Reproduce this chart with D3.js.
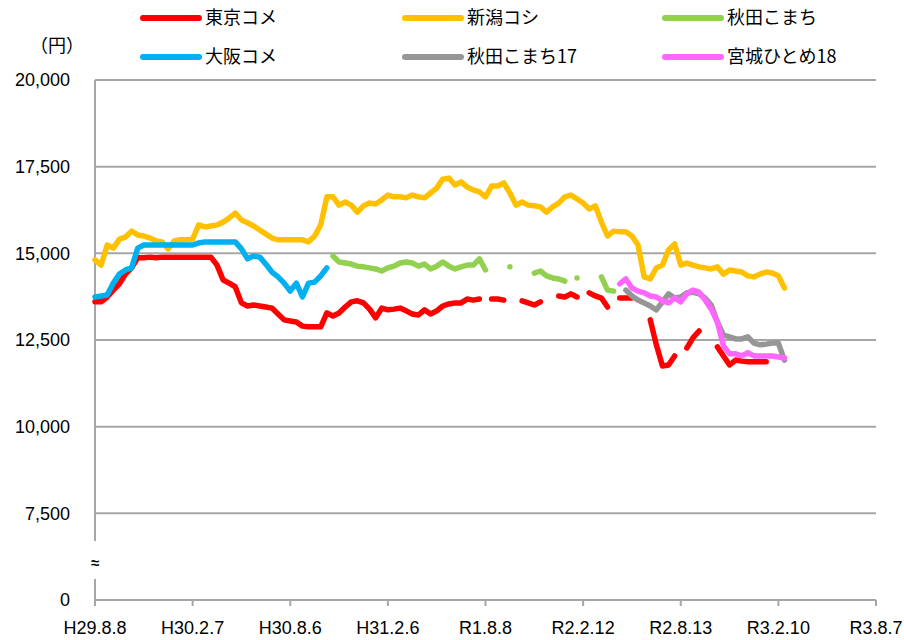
<!DOCTYPE html>
<html>
<head>
<meta charset="utf-8">
<script src="https://cdn.jsdelivr.net/npm/d3@7"></script>
<style>
body { margin: 0; background: #fff; }
</style>
</head>
<body>
<div id="chart"></div>
<script>
// x is an index into the weekly-ish price list, 16 steps per tick label
var tickLabels = ['H29.8.8', 'H30.2.7', 'H30.8.6', 'H31.2.6', 'R1.8.8', 'R2.2.12', 'R2.8.13', 'R3.2.10', 'R3.8.7'];
var stepsPerTick = 16;
var yTicks = [0, 7500, 10000, 12500, 15000, 17500, 20000];

var seriesNames = ['東京コメ', '新潟コシ', '秋田こまち', '大阪コメ', '秋田こまち17', '宮城ひとめ18'];
var seriesColors = ['#ff0000', '#ffc000', '#92d050', '#00b0f0', '#969696', '#ff66ff'];

var tokyoStart = 0;
var tokyo = [13600, 13600, 13740, 13940, 14120, 14400, 14580, 14870, 14870, 14890,
    14870, 14890, 14890, 14890, 14890, 14890, 14890, 14890, 14890, 14890,
    14660, 14230, 14140, 14030, 13570, 13480, 13510, 13480, 13450, 13420,
    13250, 13080, 13050, 13020, 12900, 12880, 12880, 12880, 13280, 13190,
    13280, 13450, 13600, 13630, 13570, 13390, 13140, 13420, 13370, 13390,
    13420, 13340, 13250, 13220, 13370, 13250, 13340, 13480, 13540, 13570,
    13570, 13680, 13650, 13680, null, 13680, 13680, 13650, null, null,
    13630, 13570, 13510, 13600, null, null, 13770, 13740, 13830, 13740,
    null, 13860, 13770, 13710, 13450, null, 13710, 13710, 13710, null,
    null, 13080, 12360, 11750, 11780, 12040, null, 12270, 12560, 12760,
    null, null, 12300, 12040, 11780, 11920, 11890, 11870, 11870, 11870,
    11870];

var niigataStart = 0;
var niigata = [14810, 14660, 15240, 15150, 15410, 15470, 15640, 15530, 15500, 15440,
    15360, 15330, 15130, 15360, 15390, 15390, 15410, 15820, 15760, 15790,
    15820, 15900, 16020, 16160, 15960, 15880, 15790, 15670, 15560, 15440,
    15390, 15390, 15390, 15390, 15390, 15330, 15500, 15820, 16630, 16630,
    16390, 16480, 16390, 16190, 16370, 16450, 16420, 16540, 16680, 16630,
    16630, 16600, 16680, 16630, 16600, 16740, 16880, 17140, 17170, 16970,
    17060, 16910, 16830, 16770, 16630, 16940, 16940, 17030, 16740, 16390,
    16480, 16390, 16370, 16340, 16190, 16340, 16450, 16630, 16680, 16570,
    16450, 16280, 16370, 15900, 15500, 15640, 15620, 15620, 15500, 15240,
    14320, 14260, 14580, 14660, 15100, 15270, 14660, 14720, 14660, 14610,
    14580, 14550, 14610, 14400, 14520, 14490, 14460, 14350, 14320, 14400,
    14460, 14430, 14350, 14000];

var akitaStart = 39;
var akita = [14920, 14750, 14720, 14690, 14630, 14610, 14580, 14550, 14490, 14580,
    14630, 14720, 14750, 14720, 14630, 14690, 14550, 14630, 14750, 14630,
    14550, 14610, 14660, 14660, 14840, 14520, null, null, null, 14610,
    null, null, null, 14430, 14490, 14350, 14290, 14260, 14200, null,
    14290, null, null, null, 14320, 13940, 13910];

var osakaStart = 0;
var osaka = [13740, 13770, 13800, 14140, 14400, 14520, 14580, 15150, 15240, 15240,
    15240, 15240, 15240, 15240, 15240, 15240, 15240, 15300, 15330, 15330,
    15330, 15330, 15330, 15330, 15130, 14840, 14920, 14890, 14690, 14460,
    14320, 14140, 13910, 14140, 13740, 14140, 14170, 14350, 14580];

var akita17Start = 87;
var akita17 = [13940, 13770, 13650, 13570, 13480, 13370, 13600, 13830, 13710, 13740,
    13860, 13880, 13830, 13710, 13510, 13020, 12640, 12590, 12530, 12530,
    12590, 12410, 12360, 12380, 12410, 12410, 11920];

var miyagi18Start = 86;
var miyagi18 = [14120, 14260, 14000, 13910, 13860, 13770, 13740, 13630, 13570, 13710,
    13600, 13830, 13940, 13880, 13650, 13390, 13020, 12330, 12100, 12100,
    12040, 12130, 12040, 12040, 12040, 12040, 12010, 11980];

var seriesData = [
    [tokyoStart, tokyo], [niigataStart, niigata], [akitaStart, akita],
    [osakaStart, osaka], [akita17Start, akita17], [miyagi18Start, miyagi18]
];

var width = 904, height = 640;
var gridColor = '#a6a6a6';
var numFont = '"Liberation Sans", Arial, sans-serif';
var jpFont = '"Noto Sans CJK JP", sans-serif';

var svg = d3.select('#chart').append('svg')
    .attr('width', width)
    .attr('height', height);

var x = d3.scaleLinear()
    .domain([0, stepsPerTick * (tickLabels.length - 1)])
    .range([95, 876]);

// broken axis: 0..7500 squeezed into one grid step
var y = d3.scaleLinear()
    .domain([0, 7500, 20000])
    .range([600, 513.3, 80]);

// grid lines
svg.append('g').selectAll('line')
    .data(yTicks)
    .enter().append('line')
    .attr('x1', x.range()[0])
    .attr('x2', x.range()[1])
    .attr('y1', function(d){ return y(d); })
    .attr('y2', function(d){ return y(d); })
    .attr('stroke', gridColor)
    .attr('stroke-width', 2);

// left axis line, with the break
svg.append('line')
    .attr('x1', 95).attr('x2', 95)
    .attr('y1', y(20000)).attr('y2', 541)
    .attr('stroke', gridColor).attr('stroke-width', 2);
svg.append('line')
    .attr('x1', 95).attr('x2', 95)
    .attr('y1', 579).attr('y2', 605)
    .attr('stroke', gridColor).attr('stroke-width', 2);
svg.append('text')
    .attr('x', 95).attr('y', 568)
    .attr('text-anchor', 'middle')
    .attr('font-family', numFont)
    .attr('font-size', 15)
    .attr('font-weight', 'bold')
    .text('≈');

// y labels
svg.append('g').selectAll('text')
    .data(yTicks)
    .enter().append('text')
    .attr('x', 70)
    .attr('y', function(d){ return y(d); })
    .attr('dy', '0.35em')
    .attr('text-anchor', 'end')
    .attr('font-family', numFont)
    .attr('font-size', 18)
    .attr('fill', '#000')
    .text(function(d){ return d3.format(',')(d); });

svg.append('text')
    .attr('x', 57).attr('y', 46)
    .attr('dy', '0.35em')
    .attr('text-anchor', 'middle')
    .attr('font-family', jpFont)
    .attr('font-size', 18)
    .text('（円）');

// x ticks and labels
var xTicks = tickLabels.map(function(d, i){ return { label: d, i: i * stepsPerTick }; });
svg.append('g').selectAll('line')
    .data(xTicks)
    .enter().append('line')
    .attr('x1', function(d){ return x(d.i); })
    .attr('x2', function(d){ return x(d.i); })
    .attr('y1', 600).attr('y2', 606)
    .attr('stroke', gridColor).attr('stroke-width', 2);
svg.append('g').selectAll('text')
    .data(xTicks)
    .enter().append('text')
    .attr('x', function(d){ return x(d.i); })
    .attr('y', 628)
    .attr('dy', '0.35em')
    .attr('text-anchor', 'middle')
    .attr('font-family', numFont)
    .attr('font-size', 18)
    .text(function(d){ return d.label; });

// series lines
var line = d3.line()
    .defined(function(d){ return d.v != null; })
    .x(function(d){ return x(d.i); })
    .y(function(d){ return y(d.v); });

seriesData.forEach(function(s, k){
    var pts = s[1].map(function(v, j){ return { i: s[0] + j, v: v }; });
    svg.append('path')
        .datum(pts)
        .attr('d', line)
        .attr('fill', 'none')
        .attr('stroke', seriesColors[k])
        .attr('stroke-width', 5.5)
        .attr('stroke-linejoin', 'round')
        .attr('stroke-linecap', 'round');
});

// legend, 3 columns x 2 rows
var legendCols = [143, 405, 665];
var legendRows = [18, 57];
var legend = svg.append('g').selectAll('g')
    .data(seriesNames)
    .enter().append('g')
    .attr('transform', function(d, i){
        return 'translate(' + legendCols[i % 3] + ',' + legendRows[Math.floor(i / 3)] + ')';
    });
legend.append('line')
    .attr('x1', 0).attr('x2', 56)
    .attr('stroke', function(d, i){ return seriesColors[i]; })
    .attr('stroke-width', 6)
    .attr('stroke-linecap', 'round');
legend.append('text')
    .attr('x', 62)
    .attr('dy', '0.35em')
    .attr('font-family', jpFont)
    .attr('font-size', 18)
    .text(function(d){ return d; });
</script>
</body>
</html>
